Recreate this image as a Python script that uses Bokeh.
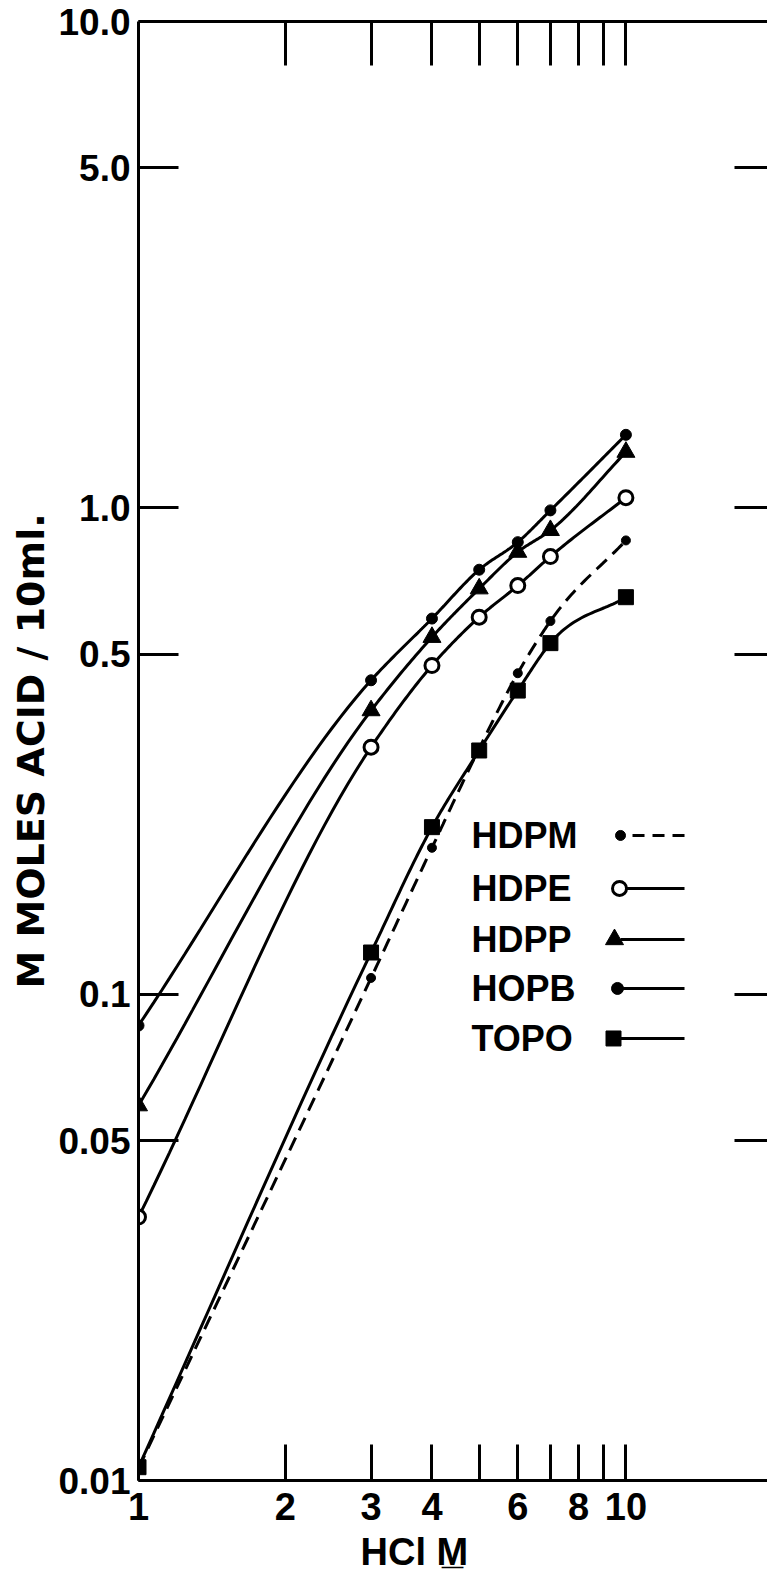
import numpy as np
from bokeh.plotting import figure
from bokeh.models import Range1d, LogAxis, FixedTicker, PrintfTickFormatter, Title
from bokeh.core.properties import value
from bokeh.embed import file_html
from bokeh.resources import INLINE

# ---------------- data ----------------
hcl = [1, 3, 4, 5, 6, 7, 10]
hdpm = [0.0106, 0.108, 0.200, 0.320, 0.457, 0.585, 0.857]
hdpe = [0.0348, 0.322, 0.474, 0.596, 0.692, 0.794, 1.049]
hdpp = [0.059, 0.383, 0.542, 0.682, 0.811, 0.899, 1.302]
hopb = [0.0862, 0.442, 0.592, 0.746, 0.850, 0.988, 1.413]
topo = [0.01065, 0.1218, 0.2205, 0.317, 0.421, 0.527, 0.655]

series_names = ["HDPM", "HDPE", "HDPP", "HOPB", "TOPO"]
y_ticks = [0.01, 0.05, 0.1, 0.5, 1, 5, 10]
y_tick_labels = ["0.01", "0.05", "0.1", "0.5", "1.0", "5.0", "10.0"]
x_ticks = [1, 2, 3, 4, 5, 6, 7, 8, 9, 10]
x_tick_labels = ["1", "2", "3", "4", "", "6", "", "8", "", "10"]
y_title = "M MOLES ACID / 10ml."
x_title = "HCl  M\u0332"

FONT = "Liberation Sans"


def smooth(xs, ys, n=30):
    """Cubic Hermite curve through the points, in log-log space."""
    lx = np.log10(np.asarray(xs, float))
    ly = np.log10(np.asarray(ys, float))
    h = np.diff(lx)
    d = np.diff(ly) / h
    m = np.empty(len(lx))
    m[0], m[-1] = d[0], d[-1]
    for i in range(1, len(lx) - 1):
        m[i] = (d[i - 1] * h[i] + d[i] * h[i - 1]) / (h[i - 1] + h[i])
    X, Y = [], []
    for i in range(len(lx) - 1):
        t = np.linspace(0, 1, n, endpoint=(i == len(lx) - 2))
        h00 = 2 * t**3 - 3 * t**2 + 1
        h10 = t**3 - 2 * t**2 + t
        h01 = -2 * t**3 + 3 * t**2
        h11 = t**3 - t**2
        X.extend(lx[i] + t * h[i])
        Y.extend(h00 * ly[i] + h10 * h[i] * m[i] + h01 * ly[i + 1] + h11 * h[i] * m[i + 1])
    return 10 ** np.array(X), 10 ** np.array(Y)


p = figure(frame_width=629, frame_height=1459,
           x_axis_type="log", y_axis_type="log",
           x_range=Range1d(1, 19.52), y_range=Range1d(0.01, 10),
           output_backend="svg", toolbar_location=None, title=None,
           min_border_left=138, min_border_right=0,
           min_border_top=21, min_border_bottom=103)
p.outline_line_color = None
p.grid.visible = False
p.background_fill_color = "white"
p.border_fill_color = "white"

# left axis
ya = p.yaxis[0]
ya.ticker = FixedTicker(ticks=y_ticks, minor_ticks=[])
ya.major_label_overrides = {t: l for t, l in zip(y_ticks, y_tick_labels)}
ya.major_tick_in = 40
ya.major_tick_out = 0
ya.major_tick_line_width = 3
ya.axis_line_width = 3
ya.major_label_standoff = 8
ya.major_label_text_font = FONT
ya.major_label_text_font_style = "bold"
ya.major_label_text_font_size = "37px"
ya.major_label_text_color = "black"

# bottom axis
xa = p.xaxis[0]
xa.ticker = FixedTicker(ticks=x_ticks, minor_ticks=[])
xa.formatter = PrintfTickFormatter(format="%d")
xa.major_label_overrides = {t: l for t, l in zip(x_ticks, x_tick_labels)}
xa.major_tick_in = 36
xa.major_tick_out = 0
xa.major_tick_line_width = 3
xa.axis_line_width = 3
xa.major_label_standoff = 12
xa.major_label_text_font = FONT
xa.major_label_text_font_style = "bold"
xa.major_label_text_font_size = "38px"
xa.major_label_text_color = "black"

# top axis (ticks only)
top_ticks = x_ticks[1:]
ta = LogAxis(ticker=FixedTicker(ticks=top_ticks, minor_ticks=[]),
             major_label_overrides={t: "" for t in top_ticks},
             major_tick_in=44, major_tick_out=0, major_tick_line_width=3,
             axis_line_width=3, major_label_standoff=0,
             major_label_text_font_size="1px")
p.add_layout(ta, "above")

# right axis (ticks only, no line)
right_ticks = y_ticks[1:-1]
ra = LogAxis(ticker=FixedTicker(ticks=right_ticks, minor_ticks=[]),
             major_label_overrides={t: "" for t in right_ticks},
             major_tick_in=33, major_tick_out=0, major_tick_line_width=3,
             axis_line_color=None, major_label_standoff=0,
             major_label_text_font_size="1px")
p.add_layout(ra, "right")

# axis titles
p.add_layout(Title(text=y_title, align="center", text_font="DejaVu Sans",
                   text_font_style="bold", text_font_size="38px",
                   text_color="black", standoff=6), "left")
p.add_layout(Title(text=x_title, align="left", offset=222, text_font=FONT,
                   text_font_style="bold", text_font_size="38px",
                   text_color="black", standoff=12), "below")

LW = 3
# curves
for ys, dash in [(hdpm, "14 8"), (hdpe, "solid"), (hdpp, "solid"),
                 (hopb, "solid"), (topo, "solid")]:
    sx_, sy_ = smooth(hcl, ys)
    p.line(sx_, sy_, line_color="black", line_width=LW, line_dash=dash)

# markers
p.scatter(hcl, hdpm, marker="circle", size=9, color="black")
p.scatter(hcl, hopb, marker="circle", size=11, color="black")
p.scatter(hcl, hdpp, marker="triangle", size=18, color="black")
p.scatter(hcl, topo, marker="square", size=15, color="black")
p.scatter(hcl, hdpe, marker="circle", size=14, fill_color="white",
          line_color="black", line_width=3)


# ---------------- legend (positions from pixel layout) ----------------
def dx(px):
    return 10 ** ((px - 138) / 487.4)


def dy(py):
    return 10 ** (-2 + (1480 - py) / 486.3)


rows = [835, 888, 939, 988, 1038]
p.text([dx(471)] * 5, [dy(r) for r in rows], text=series_names,
       text_font=value(FONT), text_font_style="bold", text_font_size="36px",
       text_baseline="middle", text_align="left", text_color="black")

leg_style = [
    ("circle", 10, "black", 632, "12 8"),
    ("circle", 14, "white", 626, "solid"),
    ("triangle", 18, "black", 620, "solid"),
    ("circle", 12, "black", 622, "solid"),
    ("square", 15, "black", 620, "solid"),
]
mx = [620, 619, 614, 617, 613]
for r, (mk, sz, fc, lx0, dash), x0 in zip(rows, leg_style, mx):
    p.line([dx(lx0), dx(684)], [dy(r), dy(r)], line_color="black",
           line_width=LW, line_dash=dash)
    p.scatter([dx(x0)], [dy(r)], marker=mk, size=sz, fill_color=fc,
              line_color="black", line_width=3 if fc == "white" else 1)

open("out.html", "w").write(file_html(p, INLINE))
